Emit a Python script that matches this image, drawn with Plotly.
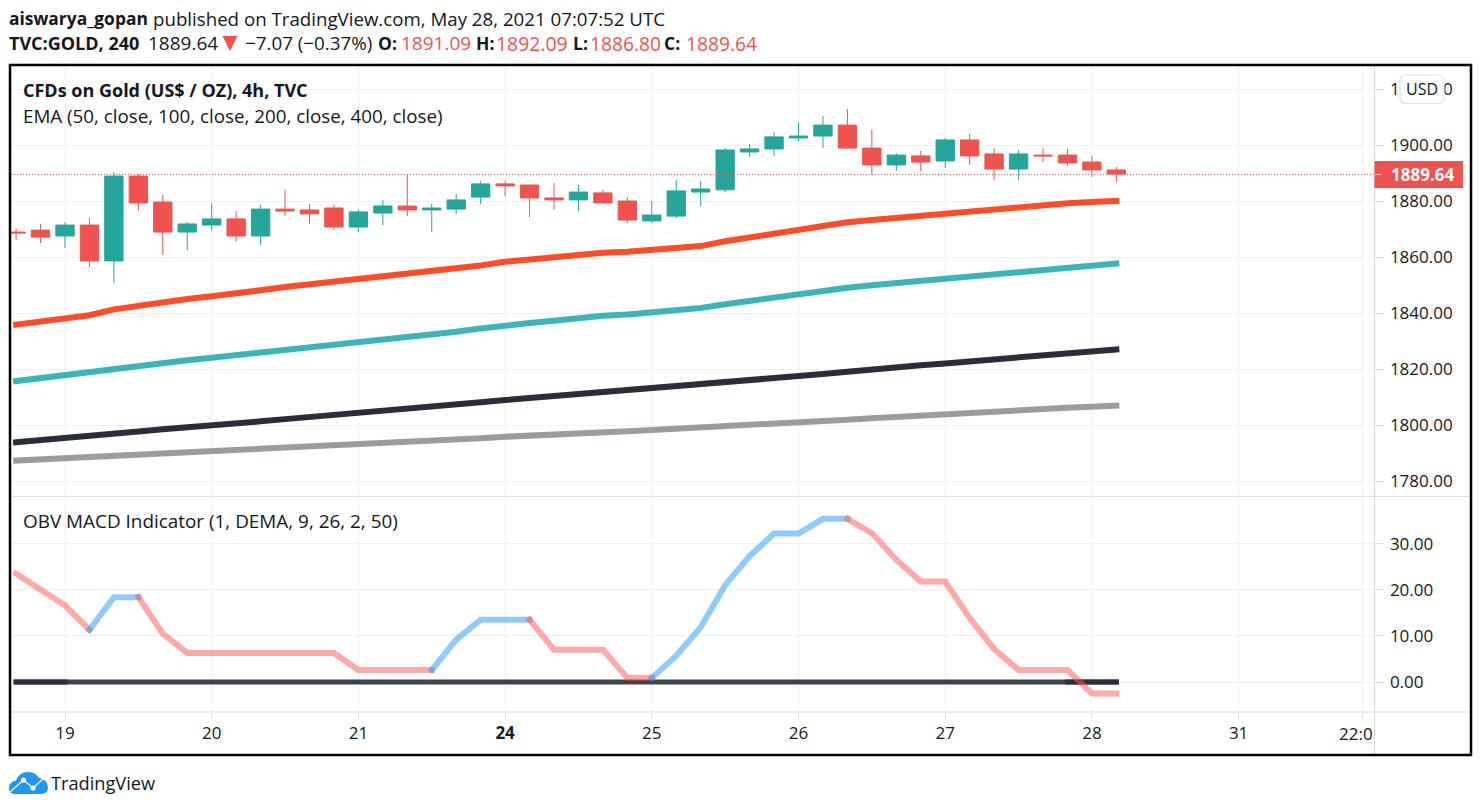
import plotly.graph_objects as go

W, H = 1481, 810
FONT = "Open Sans"
INK = "#131722"
GRID = "#f1f1f3"
AXIS = "#dcdee3"
GREEN = "#26a69a"
RED = "#ef5350"

BAR_INDEX = list(range(-2, 44))
OPEN = [1868.9, 1869.6, 1867.5, 1871.4, 1858.6, 1888.9, 1879.6, 1868.9, 1871.4, 1873.6, 1867.5, 1877.1, 1876.8, 1877.5, 1870.7, 1875.7,
        1878.2, 1876.8, 1877.1, 1881.4, 1886.1, 1885.7, 1881.1, 1880.4, 1882.9, 1880.0, 1872.9, 1874.6, 1883.2, 1884.0, 1897.5, 1898.6,
        1902.5, 1903.2, 1907.1, 1898.9, 1892.9, 1896.1, 1894.3, 1901.8, 1896.8, 1891.4, 1896.4, 1896.4, 1893.9, 1891.09]
HIGH = [1870.2, 1871.8, 1872.5, 1873.9, 1890.4, 1889.6, 1882.2, 1872.5, 1879.3, 1876.4, 1878.6, 1884.0, 1879.0, 1878.6, 1877.1, 1880.4,
        1889.6, 1879.0, 1882.5, 1887.2, 1887.2, 1885.7, 1886.4, 1885.7, 1884.0, 1881.4, 1880.0, 1887.5, 1887.2, 1898.9, 1900.4, 1904.6,
        1907.9, 1910.4, 1912.9, 1905.4, 1897.1, 1897.9, 1902.5, 1903.9, 1898.9, 1898.2, 1898.9, 1898.6, 1896.1, 1892.09]
LOW = [1866.1, 1865.0, 1863.2, 1856.4, 1850.7, 1876.4, 1860.7, 1862.5, 1869.3, 1865.4, 1864.3, 1874.6, 1871.8, 1869.6, 1868.9, 1871.4,
       1874.6, 1868.9, 1875.4, 1878.9, 1881.8, 1874.3, 1876.8, 1876.4, 1878.9, 1872.1, 1872.1, 1873.9, 1878.2, 1883.2, 1895.7, 1896.1,
       1901.4, 1898.9, 1898.6, 1889.3, 1890.7, 1890.7, 1891.8, 1892.9, 1887.5, 1887.5, 1893.9, 1892.5, 1888.6, 1886.80]
CLOSE = [1868.6, 1867.1, 1871.4, 1858.6, 1888.9, 1879.3, 1868.9, 1871.8, 1873.6, 1867.5, 1877.1, 1876.4, 1875.4, 1870.7, 1876.1, 1878.2,
         1876.8, 1877.5, 1880.4, 1886.1, 1885.4, 1881.1, 1880.4, 1883.2, 1879.3, 1873.2, 1875.0, 1883.6, 1884.3, 1898.2, 1898.6, 1902.9,
         1903.2, 1907.1, 1898.9, 1892.9, 1896.4, 1893.9, 1901.8, 1896.1, 1891.4, 1896.8, 1896.1, 1893.6, 1891.1, 1889.64]

EMA_50 = [1835.8, 1837.0, 1838.3, 1839.2, 1841.3, 1842.7, 1843.9, 1845.0, 1846.0, 1846.8, 1848.1, 1849.3, 1850.2, 1851.1, 1852.0, 1853.0,
          1853.9, 1854.8, 1855.7, 1857.0, 1858.3, 1859.2, 1860.1, 1860.9, 1861.5, 1861.9, 1862.4, 1863.2, 1863.9, 1865.6, 1867.0, 1868.4,
          1869.8, 1871.3, 1872.4, 1873.2, 1874.0, 1874.8, 1875.7, 1876.5, 1877.3, 1878.0, 1878.7, 1879.2, 1879.6, 1880.0]
EMA_100 = [1815.7, 1816.8, 1817.7, 1818.6, 1820.1, 1821.3, 1822.2, 1823.1, 1824.0, 1824.9, 1826.0, 1827.0, 1828.0, 1828.7, 1829.7, 1830.7,
           1831.5, 1832.5, 1833.3, 1834.5, 1835.6, 1836.4, 1837.2, 1838.2, 1839.0, 1839.5, 1840.2, 1841.1, 1841.8, 1843.1, 1844.3, 1845.5,
           1846.8, 1848.2, 1849.0, 1849.9, 1850.7, 1851.5, 1852.5, 1853.3, 1854.0, 1854.7, 1855.7, 1856.4, 1857.1, 1857.7]
EMA_200 = [1793.8, 1794.5, 1795.1, 1795.8, 1796.9, 1797.7, 1798.5, 1799.1, 1799.8, 1800.6, 1801.3, 1802.1, 1802.8, 1803.4, 1804.2, 1805.0,
           1805.6, 1806.4, 1807.1, 1808.1, 1808.9, 1809.6, 1810.5, 1811.2, 1811.8, 1812.2, 1812.8, 1813.6, 1814.2, 1815.0, 1815.7, 1816.5,
           1817.3, 1818.2, 1819.0, 1819.9, 1820.6, 1821.3, 1822.0, 1822.7, 1823.4, 1824.1, 1824.9, 1825.6, 1826.3, 1827.0]
EMA_400 = [1787.3, 1787.7, 1788.1, 1788.4, 1788.9, 1789.2, 1789.6, 1790.0, 1790.4, 1790.9, 1791.3, 1791.7, 1792.1, 1792.6, 1793.1, 1793.5,
           1793.9, 1794.4, 1794.9, 1795.3, 1795.8, 1796.3, 1796.8, 1797.1, 1797.5, 1797.8, 1798.2, 1798.6, 1799.0, 1799.6, 1800.1, 1800.6,
           1801.0, 1801.4, 1801.9, 1802.4, 1802.8, 1803.3, 1803.8, 1804.3, 1804.7, 1805.2, 1805.7, 1806.2, 1806.5, 1806.9]
EMA_STYLES = [(EMA_400, "#9a9d9d"), (EMA_200, "#2a2e39"), (EMA_100, "#38b5b8"), (EMA_50, "#ff4b28")]

OBV = [23.5, 20.0, 16.6, 11.35, 18.4, 18.4, 10.5, 6.3, 6.3, 6.3, 6.3, 6.3, 6.3, 6.3, 2.6, 2.6,
       2.6, 2.6, 9.2, 13.5, 13.5, 13.5, 7.0, 7.0, 7.0, 0.9, 0.9, 5.7, 11.9, 21.0, 27.3, 32.2,
       32.2, 35.4, 35.4, 32.3, 26.5, 21.8, 21.8, 13.9, 7.2, 2.6, 2.6, 2.6, -2.5, -2.5]
# Bar-index runs of the indicator line: (first bar, last bar, rising?)
OBV_RUNS = [(-2, 1, False), (1, 3, True), (3, 15, False), (15, 19, True), (19, 24, False), (24, 32, True), (32, 43, False)]
ZERO = [0.0] * len(BAR_INDEX)
ZERO_DARK_RUNS = [(-2, 0), (41, 43)]

DAY_TICK_BARS = [0, 6, 12, 18, 24, 30, 36, 42, 48, 53.08]
DAY_TICK_TEXT = ["19", "20", "21", "<b>24</b>", "25", "26", "27", "28", "31", ""]
PRICE_TICKS = [1780, 1800, 1820, 1840, 1860, 1880, 1900, 1920]
OBV_TICKS = [0, 10, 20, 30]


def px(x):
    return x / W


def py(y):
    return 1 - y / H


PANE_L, PANE_R, TOP, DIV, BOT = 11, 1374.5, 65, 496.5, 712

fig = go.Figure()
fig.add_trace(go.Candlestick(
    x=BAR_INDEX, open=OPEN, high=HIGH, low=LOW, close=CLOSE, xaxis="x", yaxis="y",
    increasing=dict(line=dict(color=GREEN, width=1), fillcolor=GREEN),
    decreasing=dict(line=dict(color=RED, width=1), fillcolor=RED),
    whiskerwidth=0, hoverinfo="skip", showlegend=False))
for values, colour in EMA_STYLES:
    fig.add_trace(go.Scatter(x=BAR_INDEX, y=values, mode="lines", xaxis="x", yaxis="y",
                             line=dict(color=colour, width=6), hoverinfo="skip", showlegend=False))

fig.add_trace(go.Scatter(x=BAR_INDEX, y=ZERO, mode="lines", xaxis="x2", yaxis="y2",
                         line=dict(color="#3f434e", width=5), hoverinfo="skip", showlegend=False))
for a, b in ZERO_DARK_RUNS:
    i, j = BAR_INDEX.index(a), BAR_INDEX.index(b)
    fig.add_trace(go.Scatter(x=BAR_INDEX[i:j + 1], y=ZERO[i:j + 1], mode="lines", xaxis="x2", yaxis="y2",
                             line=dict(color="#2a2e39", width=5), hoverinfo="skip", showlegend=False))
for a, b, rising in OBV_RUNS:
    i, j = BAR_INDEX.index(a), BAR_INDEX.index(b)
    colour = "rgba(33,150,243,0.5)" if rising else "rgba(255,82,82,0.5)"
    fig.add_trace(go.Scatter(x=BAR_INDEX[i:j + 1], y=OBV[i:j + 1], mode="lines", xaxis="x2", yaxis="y2",
                             line=dict(color=colour, width=6), hoverinfo="skip", showlegend=False))

shapes = []


def line(x0, y0, x1, y1, colour, width=1, dash="solid"):
    shapes.append(dict(type="line", xref="paper", yref="paper", x0=px(x0), y0=py(y0), x1=px(x1), y1=py(y1),
                       line=dict(color=colour, width=width, dash=dash), layer="above"))


def path(points, fill, colour=None, width=0):
    shapes.append(dict(type="path", xref="paper", yref="paper", path=points, fillcolor=fill,
                       line=dict(color=colour or fill, width=width), layer="above"))


def pth(template):
    out, toks, k = [], template.split(), 0
    while k < len(toks):
        t = toks[k]
        if t.isalpha():
            out.append(t)
            k += 1
        else:
            out.append(f"{px(float(t)):.6f},{py(float(toks[k + 1])):.6f}")
            k += 2
    return " ".join(out)


# pane separators
line(PANE_L, DIV, 1470, DIV, AXIS)
line(PANE_L, BOT, 1470, BOT, AXIS)
line(PANE_R, TOP, PANE_R, 754, "#d5d7dd")
# last-price line (pixel row of the last close)
line(PANE_L, 174.5, PANE_R, 174.5, "#f05a58", 1, "1px,2px")
# outer frame
shapes.append(dict(type="rect", xref="paper", yref="paper", x0=px(10), x1=px(1471), y0=py(65), y1=py(755),
                   line=dict(color="#000000", width=2.5), layer="above"))
# last-price tag
shapes.append(dict(type="rect", xref="paper", yref="paper", x0=px(1374.5), x1=px(1463), y0=py(161), y1=py(188),
                   fillcolor=RED, line=dict(width=0), layer="above"))
line(1374.5, 174.5, 1382, 174.5, "#f6b2b1")
# USD button
path(pth("M 1406 75 L 1438 75 Q 1444 75 1444 81 L 1444 97.5 Q 1444 103.5 1438 103.5 L 1406 103.5 Q 1400 103.5 1400 97.5 L 1400 81 Q 1400 75 1406 75 Z"),
     "#ffffff", "#dfe1e8", 1.2)
# header triangle
path(pth("M 222.5 36 L 237.5 36 L 230 51 Z"), RED)
# logo
path(pth("M 15 794 Q 9 794 9 788 Q 9 782 16 780.5 Q 19 772 28 772 Q 36 772 39 778 Q 47 779 48 787 Q 48 794 41 794 Z"), "#2196f3")
shapes.append(dict(type="path", xref="paper", yref="paper",
                   path=pth("M 10 792 L 23.5 780 L 33 788 L 47 775.5"),
                   line=dict(color="#ffffff", width=1.3), layer="above"))
for cx, cy in [(23.5, 780), (33, 788)]:
    shapes.append(dict(type="circle", xref="paper", yref="paper", x0=px(cx - 2.6), x1=px(cx + 2.6), y0=py(cy + 2.6), y1=py(cy - 2.6),
                       fillcolor="#ffffff", line=dict(width=0), layer="above"))


def text(x, y, s, size=18.8, colour=INK, anchor="left"):
    return dict(x=px(x), y=py(y), xref="paper", yref="paper", text=s, showarrow=False, xanchor=anchor, yanchor="middle",
                font=dict(family=FONT, size=size, color=colour), borderpad=0, borderwidth=0)


annotations = [
    text(9, 18.5, "<b>aiswarya_gopan</b>", size=17.4),
    text(153, 18.5, "published on TradingView.com, May 28, 2021 07:07:52 UTC", size=18.7),
    text(9, 43, "<b>TVC:GOLD, 240</b>", size=18),
    text(148, 43, "1889.64", size=19),
    text(245, 43, "−7.07 (−0.37%)", size=18.8),
    text(378, 43, "<b>O:</b>", size=17.5),
    text(401, 43, "1891.09", size=19, colour=RED),
    text(476, 43, "<b>H:</b>", size=17.5),
    text(496, 43, "1892.09", size=19.4, colour=RED),
    text(573, 43, "<b>L:</b>", size=17.5),
    text(590, 43, "1886.80", size=19.2, colour=RED),
    text(664, 43, "<b>C:</b>", size=17.5),
    text(686, 43, "1889.64", size=19.2, colour=RED),
    text(23, 90, "<b>CFDs on Gold (US$ / OZ), 4h, TVC</b>", size=18),
    text(23, 116, "EMA (50, close, 100, close, 200, close, 400, close)"),
    text(23, 521, "OBV MACD Indicator (1, DEMA, 9, 26, 2, 50)", size=18.9),
    text(1422, 89, "USD", size=16, anchor="center"),
    text(1422, 175, "<b>1889.64</b>", size=17, colour="#ffffff", anchor="center"),
    text(1373, 733, "22:0", size=17, anchor="right"),
    text(51, 783, "TradingView", size=18.2),
]

x_common = dict(range=[(PANE_L - 65) / 24.45, (PANE_R - 65) / 24.45], domain=[px(PANE_L), px(PANE_R)],
                tickmode="array", tickvals=DAY_TICK_BARS, showgrid=True, gridcolor=GRID, gridwidth=1,
                zeroline=False, showline=False, rangeslider=dict(visible=False))
y_common = dict(side="right", showgrid=True, gridcolor=GRID, gridwidth=1, zeroline=False, showline=False,
                ticks="outside", ticklen=8, tickcolor=AXIS, tickwidth=1, tickformat=".2f",
                tickfont=dict(family=FONT, size=17, color=INK), ticklabelstandoff=3)

fig.update_layout(
    width=W, height=H, margin=dict(l=0, r=0, t=0, b=0), paper_bgcolor="#ffffff", plot_bgcolor="#ffffff",
    showlegend=False, boxgap=0.25, boxgroupgap=0, hovermode=False,
    xaxis=dict(**x_common, anchor="y", ticks="", showticklabels=False),
    xaxis2=dict(**x_common, anchor="y2", ticks="outside", ticklen=6, tickcolor=AXIS, tickwidth=1,
                ticktext=DAY_TICK_TEXT, tickfont=dict(family=FONT, size=17, color=INK), matches="x"),
    yaxis=dict(**y_common, anchor="x", domain=[py(DIV), py(TOP)],
               range=[1900 - (DIV - 145) / 2.8, 1900 + (145 - TOP) / 2.8], tickmode="array", tickvals=PRICE_TICKS),
    yaxis2=dict(**y_common, anchor="x2", domain=[py(BOT), py(DIV)],
                range=[-(BOT - 682) / 4.61, (682 - DIV) / 4.61], tickmode="array", tickvals=OBV_TICKS),
    shapes=shapes, annotations=annotations,
)

fig.write_html("out.html", config=dict(displayModeBar=False),
               post_script="document.body.style.margin='0';document.body.style.overflow='hidden';"
                           "document.querySelectorAll('.js-line').forEach(function(p){p.style.strokeLinecap='square';});")
